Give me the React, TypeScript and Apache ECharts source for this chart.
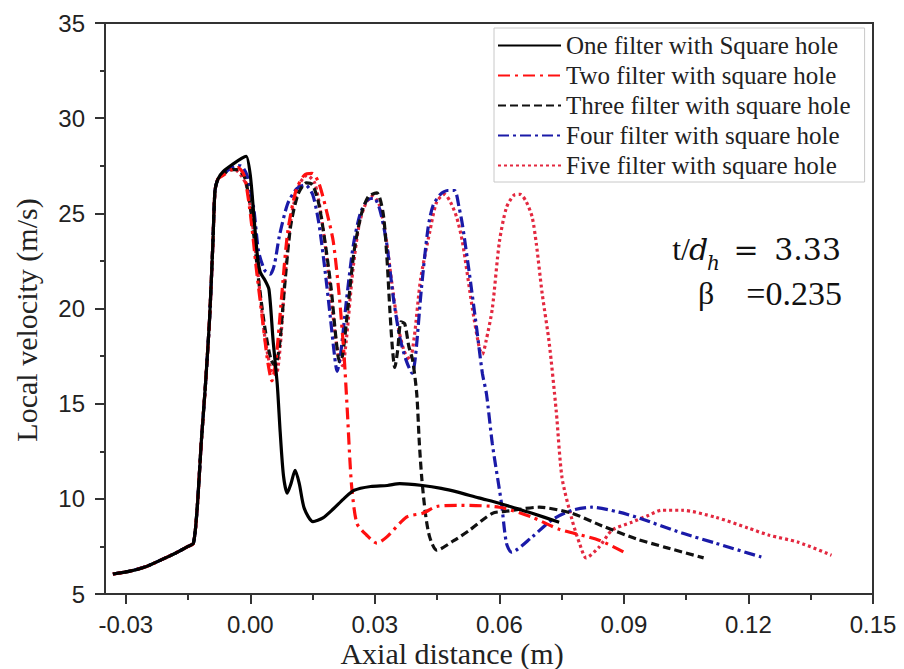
import React, { useEffect, useRef } from "react";
import * as echarts from "echarts";

// ---------- data (x: axial distance in m, y: local velocity in m/s) ----------
const commonRise: number[][] = [
  [-0.0331, 6.05], [-0.029, 6.2], [-0.025, 6.45], [-0.0216, 6.78], [-0.018, 7.15],
  [-0.015, 7.5], [-0.0137, 7.67], [-0.0128, 9.5], [-0.0118, 13], [-0.0108, 16],
  [-0.0098, 19.5], [-0.009, 23.5], [-0.0085, 26.2], [-0.0078, 26.8],
];

const oneFilter: number[][] = [
  [-0.0065, 27.2], [-0.0041, 27.6], [-0.002, 27.9], [-0.001, 28.0], [0, 27.0], [0.001, 24.5],
  [0.0017, 22.8], [0.0024, 21.9], [0.0035, 21.5], [0.0045, 21.0], [0.0055, 18.3], [0.0065, 16.0],
  [0.0072, 13.5], [0.008, 11.2], [0.0089, 10.3], [0.0098, 10.8], [0.0108, 11.5], [0.0118, 10.8],
  [0.013, 9.5], [0.0151, 8.8], [0.0175, 9.0], [0.0199, 9.45], [0.0225, 10.0], [0.025, 10.45],
  [0.029, 10.65], [0.033, 10.7], [0.036, 10.8], [0.0415, 10.7], [0.046, 10.55], [0.05, 10.35],
  [0.055, 10.05], [0.06, 9.77], [0.064, 9.5], [0.0679, 9.24], [0.0744, 8.77],
];

const twoFilter: number[][] = [
  [-0.0065, 27.0], [-0.0045, 27.3], [-0.003, 27.4], [-0.0015, 27.0], [0, 25.0], [0.0015, 22.0],
  [0.003, 19.3], [0.0042, 17.2], [0.0052, 16.2], [0.0062, 17.3], [0.0075, 20.5], [0.009, 24.0],
  [0.011, 26.2], [0.013, 27.0], [0.0149, 27.1], [0.0165, 26.6], [0.0185, 25.0], [0.02, 23.5],
  [0.0215, 20.5], [0.0226, 17.5], [0.0234, 14.5], [0.024, 12.0], [0.0245, 10.45], [0.0257, 8.7],
  [0.028, 8.1], [0.0305, 7.67], [0.0329, 8.0], [0.0377, 9.05], [0.0415, 9.24], [0.0449, 9.6],
  [0.05, 9.66], [0.06, 9.56], [0.0679, 9.03], [0.0744, 8.4], [0.084, 7.83], [0.09, 7.2],
];

const threeFilter: number[][] = [
  [-0.0068, 27.0], [-0.0048, 27.3], [-0.003, 27.3], [-0.0012, 26.8], [0.0005, 24.5], [0.002, 21.5],
  [0.0035, 19.0], [0.005, 17.3], [0.006, 17.0], [0.007, 18.0], [0.0082, 21.0], [0.0097, 24.3],
  [0.0115, 26.0], [0.0135, 26.6], [0.015, 26.5], [0.0165, 25.5], [0.018, 23.5], [0.0195, 21.0],
  [0.0207, 18.3], [0.0215, 17.2], [0.0222, 17.5], [0.0235, 20.0], [0.025, 23.0], [0.0268, 25.0],
  [0.0285, 25.9], [0.0305, 26.07], [0.032, 25.0], [0.0329, 22.7], [0.0336, 20.0], [0.0342, 18.0],
  [0.0348, 16.9], [0.0355, 17.8], [0.0363, 19.3], [0.0372, 19.2], [0.0382, 18.0], [0.0391, 17.3],
  [0.0401, 15.5], [0.0407, 13.0], [0.0413, 11.1], [0.0422, 9.2], [0.0432, 8.0], [0.0449, 7.3],
  [0.049, 7.8], [0.0528, 8.35], [0.0583, 9.24], [0.0617, 9.35], [0.0696, 9.56], [0.0775, 9.24],
  [0.0845, 8.6], [0.0929, 7.9], [0.1, 7.45], [0.1092, 6.9],
];

const fourFilter: number[][] = [
  [-0.0068, 27.0], [-0.0045, 27.4], [-0.0024, 27.5], [-0.0008, 27.0], [0.0008, 25.3], [0.002, 23.0],
  [0.0035, 22.0], [0.0048, 21.8], [0.0058, 22.3], [0.007, 23.8], [0.009, 25.5], [0.0112, 26.3],
  [0.0132, 26.5], [0.015, 26.0], [0.0165, 24.5], [0.018, 22.0], [0.0193, 19.5], [0.0203, 17.5],
  [0.0209, 16.7], [0.0217, 17.5], [0.0232, 20.5], [0.0248, 23.3], [0.0265, 25.0], [0.0282, 25.7],
  [0.0298, 25.8], [0.0312, 25.2], [0.0328, 23.5], [0.0345, 20.5], [0.036, 18.5], [0.0375, 17.3],
  [0.039, 16.6], [0.0398, 17.5], [0.0412, 21.0], [0.0428, 24.2], [0.044, 25.4], [0.0458, 26.0],
  [0.0475, 26.2], [0.0492, 26.2], [0.0503, 25.3], [0.0511, 24.4], [0.0528, 21.8], [0.0545, 19.0],
  [0.0559, 16.6], [0.0569, 15.5], [0.0583, 12.9], [0.0605, 9.77], [0.0617, 7.67], [0.0629, 7.2],
  [0.0679, 8.0], [0.0727, 8.9], [0.0775, 9.4], [0.0823, 9.56], [0.0888, 9.3], [0.0938, 8.98],
  [0.104, 8.2], [0.1121, 7.67], [0.1231, 6.94],
];

const fiveFilter: number[][] = [
  [-0.007, 27.0], [-0.005, 27.3], [-0.003, 27.2], [-0.001, 26.5], [0.0005, 24.5], [0.002, 21.5],
  [0.0035, 18.5], [0.005, 16.8], [0.0062, 16.5], [0.0072, 18.0], [0.0085, 22.0], [0.01, 25.0],
  [0.012, 26.6], [0.0137, 27.0], [0.0155, 26.6], [0.017, 25.0], [0.0185, 22.5], [0.02, 19.5],
  [0.0212, 17.5], [0.0222, 17.0], [0.0232, 18.5], [0.0247, 22.0], [0.0263, 24.5], [0.028, 25.6],
  [0.0295, 25.9], [0.031, 25.5], [0.0325, 24.0], [0.034, 21.5], [0.0355, 19.2], [0.037, 17.8],
  [0.0384, 17.3], [0.0395, 18.5], [0.041, 21.5], [0.0432, 24.0], [0.0449, 25.6], [0.0468, 26.0],
  [0.0482, 25.6], [0.0497, 24.8], [0.0511, 23.5], [0.0535, 20.0], [0.0552, 17.9], [0.0559, 17.6],
  [0.0568, 18.3], [0.0583, 20.0], [0.06, 23.5], [0.0617, 25.3], [0.0635, 25.95], [0.065, 26.0],
  [0.0665, 25.6], [0.0679, 24.8], [0.0689, 23.4], [0.0703, 20.8], [0.072, 18.2], [0.0737, 14.6],
  [0.0751, 11.1], [0.0775, 8.9], [0.0794, 7.6], [0.0809, 6.9], [0.084, 7.46], [0.0871, 8.35],
  [0.0919, 8.77], [0.096, 9.14], [0.0991, 9.4], [0.1039, 9.4], [0.1121, 9.03], [0.12, 8.46],
  [0.1248, 8.1], [0.132, 7.72], [0.14, 7.04],
];

const seriesNames = [
  "One filter with Square hole",
  "Two filter with square hole",
  "Three filter with square hole",
  "Four filter with square hole",
  "Five filter with square hole",
];

const xMajorTicks = [-0.03, 0, 0.03, 0.06, 0.09, 0.12, 0.15];
const xMinorTicks = [-0.015, 0.015, 0.045, 0.075, 0.105, 0.135];

const SERIF = "'Liberation Serif', 'Times New Roman', serif";
const SANS = "'Liberation Sans', Arial, sans-serif";
const MATH = "'DejaVu Serif', serif";

export default function App() {
  const ref = useRef<HTMLDivElement>(null);

  useEffect(() => {
    if (!ref.current) return;
    const chart = echarts.init(ref.current, undefined, { renderer: "svg" });

    const styles = [
      { color: "#000000", type: "solid" as any, width: 3.2 },
      { color: "#ff1010", type: [12, 5, 3, 5], width: 3.2 },
      { color: "#111111", type: [8, 4], width: 3.2 },
      { color: "#1a1aa8", type: [11, 4, 3, 4], width: 3.2 },
      { color: "#e3283f", type: [3, 3], width: 3.2 },
    ];
    const datas = [oneFilter, twoFilter, threeFilter, fourFilter, fiveFilter];

    const series = datas.map((d, i) => ({
      name: seriesNames[i],
      type: "line",
      data: commonRise.concat(d),
      symbol: "none",
      smooth: 0.25,
      lineStyle: styles[i],
      itemStyle: { color: styles[i].color },
      z: 10 - i,
    }));

    const tickLine = { color: "#333", width: 2 };

    chart.setOption({
      animation: false,
      backgroundColor: "#ffffff",
      grid: {
        left: 105, right: 31, top: 23, bottom: 75,
        show: true, borderColor: "#333", borderWidth: 2, backgroundColor: "transparent",
      },
      xAxis: [
        {
          type: "value", min: -0.035, max: 0.15, position: "bottom",
          axisLine: { show: true, onZero: false, lineStyle: tickLine },
          axisTick: { show: true, inside: false, length: 10, customValues: xMajorTicks, lineStyle: tickLine },
          axisLabel: {
            customValues: xMajorTicks, margin: 18, fontSize: 24, fontFamily: SANS, color: "#222",
            formatter: (v: number) => v.toFixed(2),
          },
          splitLine: { show: false },
        },
        {
          type: "value", min: -0.035, max: 0.15, position: "bottom",
          axisLine: { show: false, onZero: false },
          axisTick: { show: true, length: 6, customValues: xMinorTicks, lineStyle: tickLine },
          axisLabel: { show: false },
          splitLine: { show: false },
        },
      ],
      yAxis: {
        type: "value", min: 5, max: 35, interval: 5,
        axisLine: { show: true, onZero: false, lineStyle: tickLine },
        axisTick: { show: true, length: 10, lineStyle: tickLine },
        minorTick: { show: true, splitNumber: 2, length: 5, lineStyle: tickLine },
        axisLabel: { margin: 20, fontSize: 24, fontFamily: SANS, color: "#222" },
        splitLine: { show: false },
      },
      legend: {
        orient: "vertical",
        left: 494, top: 28,
        itemWidth: 63, itemHeight: 14, itemGap: 5,
        padding: [5, 14, 4, 3],
        backgroundColor: "#ffffff",
        borderColor: "#c8c8c8", borderWidth: 1,
        selectedMode: false,
        itemStyle: { opacity: 0 },
        textStyle: { fontFamily: SERIF, fontSize: 25, color: "#222", lineHeight: 24 },
        data: seriesNames,
      },
      graphic: [
        {
          type: "text", x: 26, y: 320, rotation: Math.PI / 2,
          style: { text: "Local velocity (m/s)", font: `30px ${SERIF}`, fill: "#222", align: "center", verticalAlign: "middle" },
        },
        {
          type: "text", x: 452, y: 653,
          style: { text: "Axial distance (m)", font: `30px ${SERIF}`, fill: "#222", align: "center", verticalAlign: "middle" },
        },
        { type: "text", x: 690, y: 249, style: { text: "t/", font: `32px ${SERIF}`, fill: "#111", align: "right", verticalAlign: "middle" } },
        { type: "text", x: 689, y: 249, style: { text: "d", font: `italic 30px ${MATH}`, fill: "#111", align: "left", verticalAlign: "middle" } },
        { type: "text", x: 707, y: 263, style: { text: "h", font: `italic 20px ${MATH}`, fill: "#111", align: "left", verticalAlign: "middle" } },
        { type: "text", x: 746, y: 249, style: { text: "=", font: `30px ${MATH}`, fill: "#111", align: "center", verticalAlign: "middle" } },
        { type: "text", x: 841, y: 249, style: { text: "3.33", font: `30px ${MATH}`, fill: "#111", align: "right", verticalAlign: "middle" } },
        { type: "text", x: 698, y: 293, style: { text: "β", font: `32px ${SERIF}`, fill: "#111", align: "left", verticalAlign: "middle" } },
        { type: "text", x: 842, y: 293, style: { text: "=0.235", font: `34px ${SERIF}`, fill: "#111", align: "right", verticalAlign: "middle" } },
      ],
      series,
    });

    return () => chart.dispose();
  }, []);

  return <div ref={ref} style={{ position: "fixed", left: 0, top: 0, width: 904, height: 669 }} />;
}
